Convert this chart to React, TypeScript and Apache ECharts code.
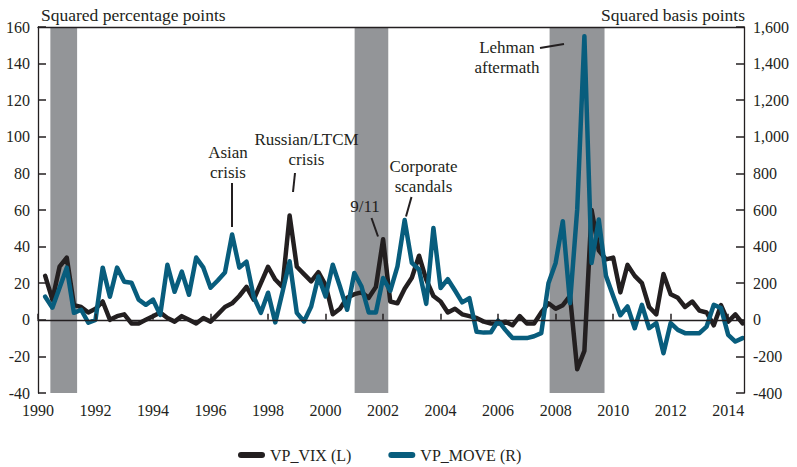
import React, { useEffect, useRef } from 'react';
import * as echarts from 'echarts';

// Quarterly observations, plotted at quarter ends starting 1990Q1 (1990.25)
const FIRST_QUARTER_END = 1990.25;
const QUARTER = 0.25;

// VP_VIX, squared percentage points (left axis)
const vixValues = [
  24, 11, 29, 34, 8, 7, 4, 6, 10, 0,
  2, 3, -2, -2, 0, 2, 4, 1, -1, 2,
  0, -2, 1, -1, 3, 7, 9, 13, 18, 11,
  20, 29, 22, 18, 57, 29, 25, 21, 26, 19,
  3, 6, 12, 14, 15, 12, 18, 44, 10, 9,
  17, 23, 35, 22, 13, 10, 4, 6, 3, 2,
  1, -1, -2, -2, -1, -3, 2, -2, -2, 4,
  9, 6, 8, 13, -27, -17, 60, 38, 33, 34,
  15, 30, 24, 20, 7, 3, 25, 14, 12, 7,
  10, 5, 4, -3, 8, -1, 3, -2,
];

// VP_MOVE, squared basis points (right axis)
const moveValues = [
  126, 66, 175, 285, 38, 55, -16, 0, 285, 126,
  285, 208, 203, 110, 82, 110, 27, 301, 153, 263,
  137, 340, 285, 175, 215, 258, 466, 285, 318, 126,
  38, 148, -14, 150, 320, 38, -9, 73, 237, 128,
  301, 182, 55, 256, 182, 40, 40, 228, 158, 292,
  545, 311, 275, 87, 502, 174, 222, 160, 95, 118,
  -65, -70, -68, -5, -55, -100, -100, -100, -90, -73,
  200, 311, 539, 91, 603, 1550, 311, 548, 240, 130,
  25, 73, -46, 82, -46, -18, -183, -18, -55, -73,
  -73, -73, -37, 82, 64, -82, -119, -100,
];

// Shaded recession periods (fractional years)
const recessionBands: [number, number][] = [
  [1990.43, 1991.36],
  [2001.01, 2002.18],
  [2007.79, 2009.7],
];

const seriesNames = ['VP_VIX (L)', 'VP_MOVE (R)'];
const xTickYears = [1990, 1992, 1994, 1996, 1998, 2000, 2002, 2004, 2006, 2008, 2010, 2012, 2014];
const leftAxisTitle = 'Squared percentage points';
const rightAxisTitle = 'Squared basis points';

const annotations = [
  { text: 'Asian\ncrisis', x: 228, y: 162.5, line: [232, 183, 232, 227] },
  { text: 'Russian/LTCM\ncrisis', x: 306.5, y: 149.5, line: [295, 173, 293, 192] },
  { text: '9/11', x: 365, y: 206, line: [371.5, 218, 378, 236.5] },
  { text: 'Corporate\nscandals', x: 423.5, y: 176.5, line: [411.5, 197, 406, 216.5] },
  { text: 'Lehman\naftermath', x: 507, y: 57.5, line: [540, 48, 564, 44] },
];

const INK = '#231f20';
const BLUE = '#085d7d';
const BAND = '#939598';
const FONT = '"Liberation Serif", "Times New Roman", serif';

export default function App() {
  const ref = useRef<HTMLDivElement>(null);

  useEffect(() => {
    document.body.style.margin = '0';
    if (!ref.current) return;
    const chart = echarts.init(ref.current, undefined, { renderer: 'svg' });

    const toPairs = (vals: number[]) =>
      vals.map((v, i) => [FIRST_QUARTER_END + i * QUARTER, v]);

    const graphics: any[] = [
      {
        type: 'text',
        x: 41,
        y: 15,
        style: { text: leftAxisTitle, fill: INK, font: `17.5px ${FONT}`, align: 'left', verticalAlign: 'middle' },
      },
      {
        type: 'text',
        x: 745,
        y: 15,
        style: { text: rightAxisTitle, fill: INK, font: `17.5px ${FONT}`, align: 'right', verticalAlign: 'middle' },
      },
    ];
    annotations.forEach((a) => {
      graphics.push({
        type: 'text',
        x: a.x,
        y: a.y,
        z: 20,
        style: {
          text: a.text,
          fill: INK,
          font: `17px ${FONT}`,
          align: 'center',
          verticalAlign: 'middle',
          lineHeight: 20,
        },
      });
      graphics.push({
        type: 'line',
        z: 20,
        shape: { x1: a.line[0], y1: a.line[1], x2: a.line[2], y2: a.line[3] },
        style: { stroke: INK, lineWidth: 2 },
      });
    });

    const axisLabelStyle = { color: INK, fontFamily: FONT, fontSize: 16 };

    chart.setOption({
      animation: false,
      backgroundColor: '#ffffff',
      grid: { left: 38, right: 53, top: 27, bottom: 74, containLabel: false },
      legend: {
        data: seriesNames,
        left: 238,
        top: 447,
        padding: 0,
        itemWidth: 27,
        itemHeight: 6,
        itemGap: 37,
        icon: 'path://M3,0 L24,0 A3,3 0 0 1 24,6 L3,6 A3,3 0 0 1 3,0 Z',
        textStyle: { color: INK, fontFamily: FONT, fontSize: 16 },
        selectedMode: false,
      },
      xAxis: [
        {
          type: 'value',
          min: 1990,
          max: 2014.55,
          interval: 2,
          z: 10,
          axisLine: { show: true, lineStyle: { color: INK, width: 1.3 } },
          axisTick: {
            show: true,
            inside: true,
            length: 6,
            lineStyle: { color: INK, width: 1.5 },
          },
          axisLabel: {
            ...axisLabelStyle,
            margin: 9,
            showMaxLabel: false,
            formatter: (v: number) => (xTickYears.includes(v) ? String(v) : ''),
          },
          splitLine: { show: false },
        },
        {
          type: 'value',
          position: 'top',
          min: 1990,
          max: 2014.55,
          z: 10,
          axisLine: { show: true, onZero: false, lineStyle: { color: INK, width: 1.3 } },
          axisTick: { show: false },
          axisLabel: { show: false },
          splitLine: { show: false },
        },
      ],
      yAxis: [
        {
          type: 'value',
          min: -40,
          max: 160,
          interval: 20,
          position: 'left',
          z: 10,
          axisLine: { show: true, onZero: false, lineStyle: { color: INK, width: 1.3 } },
          axisTick: { show: true, inside: true, length: 8, lineStyle: { color: INK, width: 1.5 } },
          axisLabel: { ...axisLabelStyle, margin: 8 },
          splitLine: { show: false },
        },
        {
          type: 'value',
          min: -400,
          max: 1600,
          interval: 200,
          position: 'right',
          z: 10,
          axisLine: { show: true, onZero: false, lineStyle: { color: INK, width: 1.3 } },
          axisTick: { show: true, inside: true, length: 8, lineStyle: { color: INK, width: 1.5 } },
          axisLabel: {
            ...axisLabelStyle,
            margin: 9,
            formatter: (v: number) => v.toLocaleString('en-US'),
          },
          splitLine: { show: false },
        },
      ],
      series: [
        {
          name: 'bands',
          type: 'line',
          data: [],
          z: 1,
          silent: true,
          markArea: {
            silent: true,
            itemStyle: { color: BAND, opacity: 1 },
            data: recessionBands.map(([a, b]) => [{ xAxis: a }, { xAxis: b }]),
          },
        },
        {
          name: seriesNames[0],
          type: 'line',
          xAxisIndex: 0,
          yAxisIndex: 0,
          data: toPairs(vixValues),
          symbol: 'none',
          z: 3,
          lineStyle: { color: INK, width: 4.5, cap: 'round', join: 'round' },
          itemStyle: { color: INK },
        },
        {
          name: seriesNames[1],
          type: 'line',
          xAxisIndex: 0,
          yAxisIndex: 1,
          data: toPairs(moveValues),
          symbol: 'none',
          z: 4,
          lineStyle: { color: BLUE, width: 4.5, cap: 'round', join: 'round' },
          itemStyle: { color: BLUE },
        },
      ],
      graphic: graphics,
    });

    return () => chart.dispose();
  }, []);

  return <div ref={ref} style={{ width: 797, height: 467 }} />;
}
